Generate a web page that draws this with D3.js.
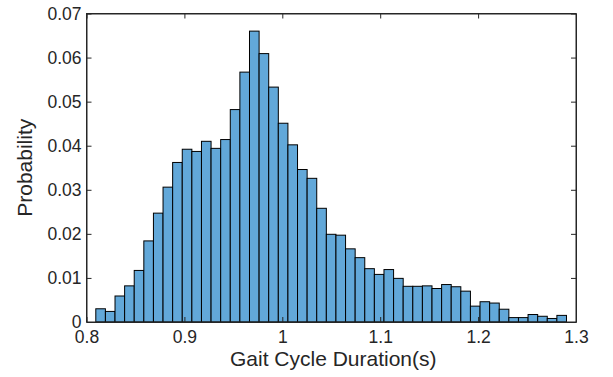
<!DOCTYPE html>
<html>
<head>
<meta charset="utf-8">
<script src="https://cdn.jsdelivr.net/npm/d3@7"></script>
<style>
  body { margin: 0; background: #fff; }
  text { font-family: "Liberation Sans", Arial, sans-serif; fill: #262626; }
</style>
</head>
<body>
<div id="chart"></div>
<script>
// Histogram bin probabilities (49 bins)
const binStart = 0.8095;
const binWidth = 0.009812;
const probs = [
  0.0030, 0.0024, 0.0059, 0.0082, 0.0117, 0.0184, 0.0247, 0.0306, 0.0362, 0.0392,
  0.0387, 0.0410, 0.0394, 0.0414, 0.0482, 0.0567, 0.0660, 0.0609, 0.0533, 0.0451,
  0.0402, 0.0346, 0.0326, 0.0258, 0.0199, 0.0197, 0.0166, 0.0146, 0.0121, 0.0108,
  0.0119, 0.0099, 0.0081, 0.0081, 0.0082, 0.0076, 0.0085, 0.0080, 0.0070, 0.0036,
  0.0046, 0.0043, 0.0029, 0.0010, 0.0010, 0.0017, 0.0013, 0.0008, 0.0015
];
const xTicks = [0.8, 0.9, 1.0, 1.1, 1.2, 1.3];
const yTicks = [0, 0.01, 0.02, 0.03, 0.04, 0.05, 0.06, 0.07];

const width = 613, height = 377;
const margin = { left: 86.5, right: 37, top: 13.5, bottom: 55 };

const svg = d3.select("#chart")
  .append("svg")
    .attr("width", width)
    .attr("height", height);

const x = d3.scaleLinear().domain([0.8, 1.3]).range([margin.left, width - margin.right]);
const y = d3.scaleLinear().domain([0, 0.07]).range([height - margin.bottom, margin.top]);

// bars
svg.append("g")
  .selectAll("rect")
  .data(probs)
  .enter()
  .append("rect")
    .attr("x", (d, i) => x(binStart + i * binWidth))
    .attr("width", (d, i) => x(binStart + (i + 1) * binWidth) - x(binStart + i * binWidth))
    .attr("y", d => y(d))
    .attr("height", d => y(0) - y(d))
    .attr("fill", "#62a8d9")
    .attr("stroke", "#000")
    .attr("stroke-width", 1);

// axes, inward ticks on all four sides
const fmtY = d => d === 0 ? "0" : d3.format(".2f")(d);
const fmtX = d => d === 1 ? "1" : d3.format(".1f")(d);

const xAxis = svg.append("g")
  .attr("transform", "translate(0," + y(0) + ")")
  .call(d3.axisBottom(x).tickValues(xTicks).tickFormat(fmtX).tickSizeInner(-5).tickSizeOuter(0).tickPadding(9));
const yAxis = svg.append("g")
  .attr("transform", "translate(" + x(0.8) + ",0)")
  .call(d3.axisLeft(y).tickValues(yTicks).tickFormat(fmtY).tickSizeInner(-5).tickSizeOuter(0).tickPadding(5));
svg.append("g")
  .attr("transform", "translate(0," + y(0.07) + ")")
  .call(d3.axisTop(x).tickValues(xTicks).tickFormat("").tickSizeInner(-5).tickSizeOuter(0));
svg.append("g")
  .attr("transform", "translate(" + x(1.3) + ",0)")
  .call(d3.axisRight(y).tickValues(yTicks).tickFormat("").tickSizeInner(-5).tickSizeOuter(0));

svg.selectAll(".domain").attr("stroke", "#262626");
svg.selectAll(".tick line").attr("stroke", "#262626");
svg.selectAll(".tick text").style("font-size", "17.5px").attr("fill", "#262626");
xAxis.selectAll(".tick text").attr("dy", "0.71em");

// box
svg.append("rect")
  .attr("x", x(0.8)).attr("y", y(0.07))
  .attr("width", x(1.3) - x(0.8)).attr("height", y(0) - y(0.07))
  .attr("fill", "none").attr("stroke", "#262626").attr("stroke-width", 1);

// labels
svg.append("text")
  .attr("x", (x(0.8) + x(1.3)) / 2 + 2)
  .attr("y", 366)
  .attr("text-anchor", "middle")
  .style("font-size", "21px")
  .text("Gait Cycle Duration(s)");

svg.append("text")
  .attr("transform", "translate(32," + (y(0.035)) + ") rotate(-90)")
  .attr("text-anchor", "middle")
  .style("font-size", "21px")
  .text("Probability");
</script>
</body>
</html>
